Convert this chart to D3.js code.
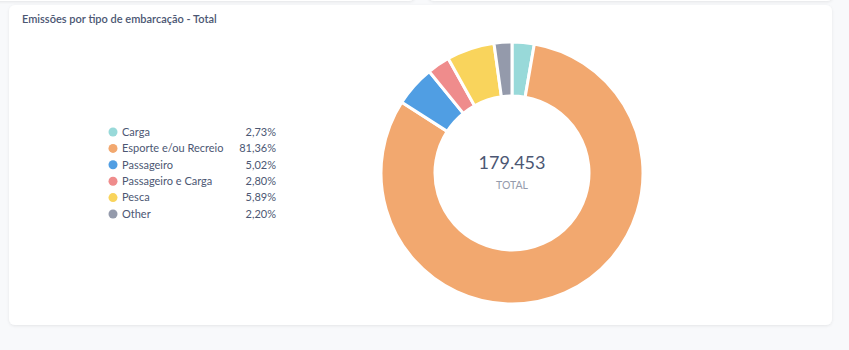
<!DOCTYPE html>
<html><head><meta charset="utf-8">
<script src="https://cdn.jsdelivr.net/npm/d3@7"></script>
<style>
html,body{margin:0;padding:0;background:#f8f9fb;width:849px;height:350px;overflow:hidden;font-family:Lato,"Noto Sans",sans-serif;}
</style></head>
<body><svg id="chart" width="849" height="350"></svg>
<script>
const title = "Emissões por tipo de embarcação - Total";
const categories = ["Carga","Esporte e/ou Recreio","Passageiro","Passageiro e Carga","Pesca","Other"];
const percentages = [2.73, 81.36, 5.02, 2.80, 5.89, 2.20];
const percentLabels = ["2,73%","81,36%","5,02%","2,80%","5,89%","2,20%"];
const colors = ["#98D9D9","#F2A86F","#509EE3","#EF8C8C","#F9D45C","#949AAB"];
const totalLabel = "179.453";
const totalCaption = "TOTAL";

const svg = d3.select("#chart");
const defs = svg.append("defs");
const f = defs.append("filter").attr("id","sh").attr("x","-5%").attr("y","-5%").attr("width","110%").attr("height","115%");
f.append("feDropShadow").attr("dx",0).attr("dy",1).attr("stdDeviation",1.5).attr("flood-color","#000").attr("flood-opacity",0.08);

// top card edge (cut-off cards above)
svg.append("rect").attr("x",-10).attr("y",-20).attr("width",425).attr("height",21).attr("rx",6).attr("fill","#fff").attr("filter","url(#sh)");
svg.append("rect").attr("x",428).attr("y",-20).attr("width",405).attr("height",21).attr("rx",6).attr("fill","#fff").attr("filter","url(#sh)");
// main card
svg.append("rect").attr("x",9).attr("y",5).attr("width",823).attr("height",320).attr("rx",6).attr("fill","#fff").attr("filter","url(#sh)");

svg.append("text").attr("x",22).attr("y",23).text(title)
  .attr("font-size","11px").attr("font-weight",600).attr("fill","#4c5773");

// legend
const yL = d3.scalePoint().domain(categories).range([132,214]);
const lg = svg.append("g");
categories.forEach((c,i)=>{
  const y = yL(c);
  lg.append("circle").attr("cx",113).attr("cy",y).attr("r",4.5).attr("fill",colors[i]);
  lg.append("text").attr("x",122).attr("y",y).attr("dy","0.35em").text(c)
    .attr("font-size","11px").attr("fill","#4c5773");
  lg.append("text").attr("x",276).attr("y",y).attr("dy","0.35em").attr("text-anchor","end").text(percentLabels[i])
    .attr("font-size","11px").attr("fill","#4c5773");
});

// donut
const cx = 512, cy = 173, outerR = 131, innerR = 77;
const pie = d3.pie().sort(null).value(d=>d);
const arc = d3.arc().innerRadius(innerR).outerRadius(outerR);
const g = svg.append("g").attr("transform",`translate(${cx},${cy})`);
g.selectAll("path").data(pie(percentages)).join("path")
  .attr("d",arc).attr("fill",(d,i)=>colors[i]).attr("stroke","#fff").attr("stroke-width",3);

g.append("text").attr("y",-4).attr("text-anchor","middle").text(totalLabel)
  .attr("font-size","18px").attr("font-weight",400).attr("fill","#4c5773");
g.append("text").attr("y",16).attr("text-anchor","middle").text(totalCaption)
  .attr("font-size","10.5px").attr("fill","#949aab");
</script></body></html>
